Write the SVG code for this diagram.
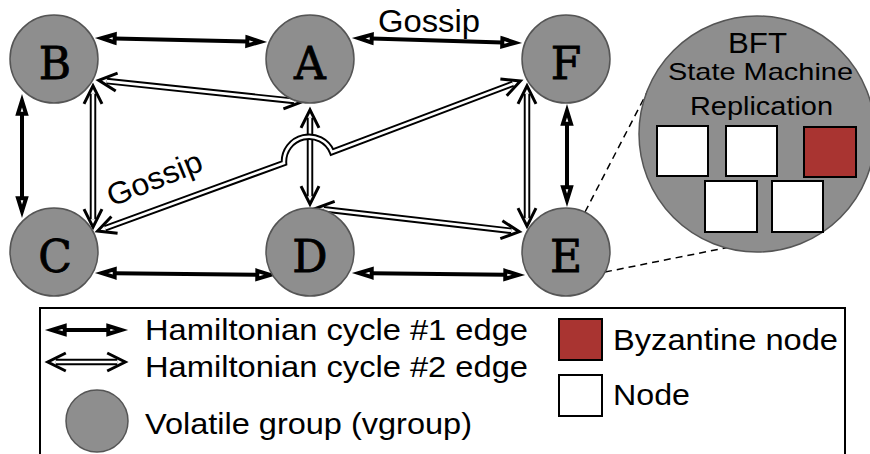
<svg xmlns="http://www.w3.org/2000/svg" width="870" height="454" viewBox="0 0 870 454">
  <style>
    .vg { fill: #8e8e8e; stroke: #555; stroke-width: 1.5; }
    .lbl { font-family: "DejaVu Serif", "Liberation Serif", serif; font-size: 44px; fill: #000; stroke: #000; stroke-width: 0.8; text-anchor: middle; }
    .txt { font-family: "Liberation Sans", Arial, sans-serif; fill: #000; }
    .c1 { fill: none; stroke: #000; stroke-width: 4; marker-start: url(#blk); marker-end: url(#blk); }
    .c2o { fill: none; stroke: #000; stroke-width: 6.5; marker-start: url(#chev); marker-end: url(#chev); }
    .c2i { fill: none; stroke: #fff; stroke-width: 2.6; }
    .dash { fill: none; stroke: #000; stroke-width: 1.5; stroke-dasharray: 7 5; }
    .rep { fill: #fff; stroke: #000; stroke-width: 2; }
    .byz { fill: #a93431; stroke: #000; stroke-width: 2; }
  </style>
  <defs>
    <!-- open block head for cycle #1 edges; the path ends at the head's base -->
    <marker id="blk" markerUnits="userSpaceOnUse" markerWidth="30" markerHeight="30" refX="0" refY="0" viewBox="-5 -15 30 30" orient="auto-start-reverse" overflow="visible">
      <path d="M0,-4 L13,0 L0,4 Z" fill="#fff" stroke="#000" stroke-width="4" stroke-linejoin="miter"/>
    </marker>
    <!-- open chevron head for cycle #2 (double line) edges -->
    <marker id="chev" markerUnits="userSpaceOnUse" markerWidth="30" markerHeight="30" refX="0" refY="0" viewBox="-15 -15 30 30" orient="auto-start-reverse" overflow="visible">
      <path d="M-10,-9 L8,0 L-10,9" fill="none" stroke="#000" stroke-width="3" stroke-linejoin="miter"/>
    </marker>
  </defs>
  <rect width="870" height="454" fill="#fff"/>

  <!-- zoom-in lines from E to the BFT group -->
  <g id="zoom-lines">
    <line class="dash" x1="585" y1="212" x2="654" y2="79"/>
    <line class="dash" x1="605" y1="272" x2="730" y2="247"/>
  </g>

  <g id="connectors">
    <!-- cycle #1 -->
    <line class="c1" x1="114.7" y1="38.5" x2="247.3" y2="41.5"/>
    <line class="c1" x1="371.7" y1="38.6" x2="502.3" y2="42.4"/>
    <line class="c1" x1="22" y1="113.7" x2="22" y2="198.3"/>
    <line class="c1" x1="114.7" y1="273.2" x2="257.3" y2="274.8"/>
    <line class="c1" x1="371.7" y1="273.2" x2="505.3" y2="274.8"/>
    <line class="c1" x1="567" y1="123.7" x2="567" y2="187.3"/>
    <!-- cycle #2 -->
    <path class="c2o" d="M106.7,81.1 L294.3,100.9"/>
    <path class="c2i" d="M106.7,81.1 L294.3,100.9"/>
    <path class="c2o" d="M93,93.8 L93,219.2"/>
    <path class="c2i" d="M93,93.8 L93,219.2"/>
    <path class="c2o" d="M310,117.8 L310,196.2"/>
    <path class="c2i" d="M310,117.8 L310,196.2"/>
    <path class="c2o" d="M323.7,209.2 L511.3,230.8"/>
    <path class="c2i" d="M323.7,209.2 L511.3,230.8"/>
    <path class="c2o" d="M527,93.8 L527,218.2"/>
    <path class="c2i" d="M527,93.8 L527,218.2"/>
    <!-- C to F, jumping over A-D -->
    <path class="c2o" d="M105.1,228.3 L284,163 A25,25 0 0 1 332,152 L512.9,83.8"/>
    <path class="c2i" d="M105.1,228.3 L284,163 A25,25 0 0 1 332,152 L512.9,83.8"/>
    <text class="txt" x="378" y="32" font-size="31" textLength="102" lengthAdjust="spacingAndGlyphs">Gossip</text>
    <text class="txt" x="0" y="0" font-size="31" textLength="100" lengthAdjust="spacingAndGlyphs" transform="translate(112,207) rotate(-22)">Gossip</text>
  </g>

  <g id="node-B"><circle class="vg" cx="54" cy="59" r="44"/><text class="lbl" x="55" y="79">B</text></g>
  <g id="node-A"><circle class="vg" cx="310" cy="59" r="44"/><text class="lbl" x="310" y="79">A</text></g>
  <g id="node-F"><circle class="vg" cx="566" cy="59" r="44"/><text class="lbl" x="566" y="79">F</text></g>
  <g id="node-C"><circle class="vg" cx="54" cy="252" r="44"/><text class="lbl" x="55" y="272">C</text></g>
  <g id="node-D"><circle class="vg" cx="310" cy="252" r="44"/><text class="lbl" x="310" y="272">D</text></g>
  <g id="node-E"><circle class="vg" cx="566" cy="252" r="44"/><text class="lbl" x="566" y="272">E</text></g>

  <g id="bft-group">
    <circle class="vg" cx="757" cy="134" r="118"/>
    <text class="txt" x="728" y="53" font-size="29" textLength="59" lengthAdjust="spacingAndGlyphs">BFT</text>
    <text class="txt" x="668" y="80" font-size="24" textLength="185" lengthAdjust="spacingAndGlyphs">State Machine</text>
    <text class="txt" x="690" y="115" font-size="25" textLength="143" lengthAdjust="spacingAndGlyphs">Replication</text>
    <rect class="rep" x="657" y="126" width="51" height="50"/>
    <rect class="rep" x="726" y="126" width="51" height="50"/>
    <rect class="byz" x="804" y="127" width="52" height="50"/>
    <rect class="rep" x="705" y="181" width="52" height="51"/>
    <rect class="rep" x="772" y="181" width="51" height="51"/>
  </g>

  <g id="legend">
    <rect x="40" y="308" width="805" height="160" fill="none" stroke="#000" stroke-width="2"/>
    <line class="c1" x1="64.7" y1="330" x2="108.3" y2="330"/>
    <path class="c2o" d="M55.8,362 L117.2,362"/>
    <path class="c2i" d="M55.8,362 L117.2,362"/>
    <circle class="vg" cx="97" cy="421" r="31"/>
    <text class="txt" x="145" y="340" font-size="29" textLength="383" lengthAdjust="spacingAndGlyphs">Hamiltonian cycle #1 edge</text>
    <text class="txt" x="145" y="377" font-size="29" textLength="383" lengthAdjust="spacingAndGlyphs">Hamiltonian cycle #2 edge</text>
    <text class="txt" x="145" y="434" font-size="29" textLength="327" lengthAdjust="spacingAndGlyphs">Volatile group (vgroup)</text>
    <rect class="byz" x="559" y="319" width="43" height="41"/>
    <rect class="rep" x="559" y="375" width="43" height="41"/>
    <text class="txt" x="613" y="350" font-size="30" textLength="225" lengthAdjust="spacingAndGlyphs">Byzantine node</text>
    <text class="txt" x="613" y="405" font-size="30" textLength="77" lengthAdjust="spacingAndGlyphs">Node</text>
  </g>
</svg>
